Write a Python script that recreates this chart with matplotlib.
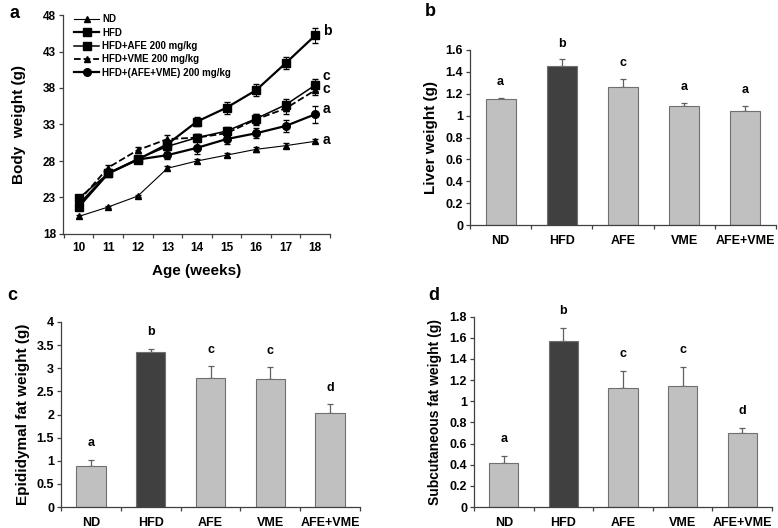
import matplotlib
matplotlib.use("Agg")
import matplotlib.pyplot as plt
import numpy as np

plt.rcParams['font.family'] = ['Liberation Sans', 'DejaVu Sans']
plt.rcParams['font.weight'] = 'bold'

# panel a - body weight
weeks = [10, 11, 12, 13, 14, 15, 16, 17, 18]
nd_bw = [20.4, 21.7, 23.2, 27.0, 28.0, 28.8, 29.6, 30.1, 30.7]
hfd_bw = [21.7, 26.3, 28.2, 30.3, 33.4, 35.3, 37.7, 41.4, 45.2]
afe_bw = [22.9, 26.3, 28.3, 30.0, 31.2, 32.1, 33.8, 35.7, 38.4]
vme_bw = [22.5, 27.1, 29.5, 31.0, 31.2, 31.8, 33.7, 35.2, 37.7]
mix_bw = [22.0, 26.3, 28.2, 28.8, 29.8, 31.0, 31.8, 32.8, 34.4]
hfd_err = [0.3, 0.4, 0.4, 0.5, 0.6, 0.8, 0.8, 0.8, 1.0]
afe_err = [0.3, 0.4, 0.4, 0.5, 0.5, 0.6, 0.7, 0.8, 0.8]
vme_err = [0.3, 0.4, 0.4, 0.5, 0.5, 0.6, 0.8, 0.8, 0.7]
mix_err = [0.3, 0.4, 0.4, 0.5, 0.8, 0.7, 0.7, 0.8, 1.2]
nd_err = [0.2, 0.2, 0.2, 0.3, 0.3, 0.3, 0.3, 0.3, 0.3]
a_letters = ['b', 'c', 'c', 'a', 'a']
a_letter_y = [45.8, 39.7, 37.9, 35.1, 30.9]

groups = ['ND', 'HFD', 'AFE', 'VME', 'AFE+VME']
# panel b - liver
liver = [1.15, 1.454, 1.259, 1.089, 1.04]
liver_err = [0.015, 0.06, 0.075, 0.03, 0.05]
liver_sig = ['a', 'b', 'c', 'a', 'a']
# panel c - epididymal fat
epi = [0.895, 3.357, 2.794, 2.773, 2.022]
epi_err = [0.13, 0.07, 0.25, 0.25, 0.2]
epi_sig = ['a', 'b', 'c', 'c', 'd']
# panel d - subcutaneous fat
sub = [0.42, 1.57, 1.123, 1.145, 0.70]
sub_err = [0.065, 0.125, 0.165, 0.18, 0.045]
sub_sig = ['a', 'b', 'c', 'c', 'd']

W, H = 778, 528
fig = plt.figure(figsize=(W / 100, H / 100), dpi=100)


def box(l, r, t, b):
    return [l / W, (H - b) / H, (r - l) / W, (b - t) / H]


def style_axes(ax, size):
    for s in ['top', 'right']:
        ax.spines[s].set_visible(False)
    for s in ['left', 'bottom']:
        ax.spines[s].set_color('#404040')
        ax.spines[s].set_linewidth(0.9)
    ax.tick_params(axis='both', direction='out', length=3, width=0.9,
                   color='#404040', labelsize=size, pad=2)
    for lab in ax.get_xticklabels() + ax.get_yticklabels():
        lab.set_fontweight('bold')


# ---- panel a ----
ax = fig.add_axes(box(63, 330, 15, 234))
x = np.arange(len(weeks))
series = [
    (nd_bw, nd_err, dict(lw=0.8, marker='^', ms=5), 'ND'),
    (hfd_bw, hfd_err, dict(lw=1.6, marker='s', ms=6), 'HFD'),
    (afe_bw, afe_err, dict(lw=1.1, marker='s', ms=5.5), 'HFD+AFE 200 mg/kg'),
    (vme_bw, vme_err, dict(lw=1.3, ls='--', marker='^', ms=5), 'HFD+VME 200 mg/kg'),
    (mix_bw, mix_err, dict(lw=1.6, marker='o', ms=5.5), 'HFD+(AFE+VME) 200 mg/kg'),
]
handles = []
for vals, errs, kw, lab in series:
    c = ax.errorbar(x, vals, yerr=errs, color='black', capsize=2,
                    elinewidth=0.7, label=lab, **kw)
    handles.append(c.lines[0])
ax.set_xlim(-0.53, len(weeks) - 0.5)
ax.set_ylim(18, 48)
ax.set_yticks([18, 23, 28, 33, 38, 43, 48])
ax.set_xticks(x)
ax.set_xticklabels([str(w) for w in weeks])
ax.set_xticks(np.arange(-0.5, len(weeks), 1.0), minor=True)
style_axes(ax, 8.5)
ax.tick_params(axis='x', which='major', length=0, pad=6)
ax.tick_params(axis='x', which='minor', length=3, width=0.9, color='#404040')
ax.set_ylabel('Body  weight (g)', fontsize=11, fontweight='bold', labelpad=12)
ax.set_xlabel('Age (weeks)', fontsize=11, fontweight='bold', labelpad=7)
for lt, ly in zip(a_letters, a_letter_y):
    ax.text(x[-1] + 0.25, ly, lt, fontsize=10, fontweight='bold', va='center')
ax.legend(handles, [s[3] for s in series], loc='upper left',
          bbox_to_anchor=(0.02, 1.03), frameon=False,
          prop={'size': 7, 'weight': 'bold'}, handlelength=2.6,
          labelspacing=0.35, handletextpad=0.3, borderaxespad=0.2)
fig.text(10 / W, 1 - 14 / H, 'a', fontsize=13, fontweight='bold', va='center')


def bar_panel(rect, vals, errs, sig, ymax, step, ylabel, lsize, letter, lpos):
    ax = fig.add_axes(rect)
    xb = np.arange(len(groups))
    colors = ['#c0c0c0', '#404040', '#c0c0c0', '#c0c0c0', '#c0c0c0']
    ax.bar(xb, vals, width=0.49, color=colors, edgecolor='#707070', linewidth=0.8, zorder=2)
    ax.errorbar(xb, vals, yerr=[np.zeros(len(vals)), errs], fmt='none',
                ecolor='#606060', elinewidth=0.9, capsize=2, capthick=0.9, zorder=1)
    for xi, v, e, s in zip(xb, vals, errs, sig):
        ax.text(xi, v + e + ymax * 0.09, s, ha='center', va='center',
                fontsize=9, fontweight='bold')
    ax.set_xlim(-0.5, len(groups) - 0.5)
    ax.set_ylim(0, ymax)
    ticks = np.arange(0, ymax + step / 2, step)
    ax.set_yticks(ticks)
    ax.set_yticklabels(['%g' % round(t, 2) for t in ticks])
    ax.set_xticks(xb)
    ax.set_xticklabels(groups)
    ax.set_xticks(np.arange(-0.5, len(groups), 1.0), minor=True)
    style_axes(ax, 9)
    ax.tick_params(axis='x', which='major', length=0, pad=7)
    ax.tick_params(axis='x', which='minor', length=3, width=0.9, color='#404040')
    ax.set_ylabel(ylabel, fontsize=lsize, fontweight='bold', labelpad=5)
    fig.text(lpos[0] / W, 1 - lpos[1] / H, letter, fontsize=13, fontweight='bold', va='center')
    return ax


bar_panel(box(470, 776, 50, 225), liver, liver_err, liver_sig, 1.6, 0.2,
          'Liver weight (g)', 11, 'b', (425, 12))
bar_panel(box(61, 360, 322, 507), epi, epi_err, epi_sig, 4.0, 0.5,
          'Epididymal fat weight (g)', 11, 'c', (7, 295))
bar_panel(box(474, 772, 316.7, 507), sub, sub_err, sub_sig, 1.8, 0.2,
          'Subcutaneous fat weight (g)', 10, 'd', (428, 296))

fig.savefig('out.png', dpi=100)
